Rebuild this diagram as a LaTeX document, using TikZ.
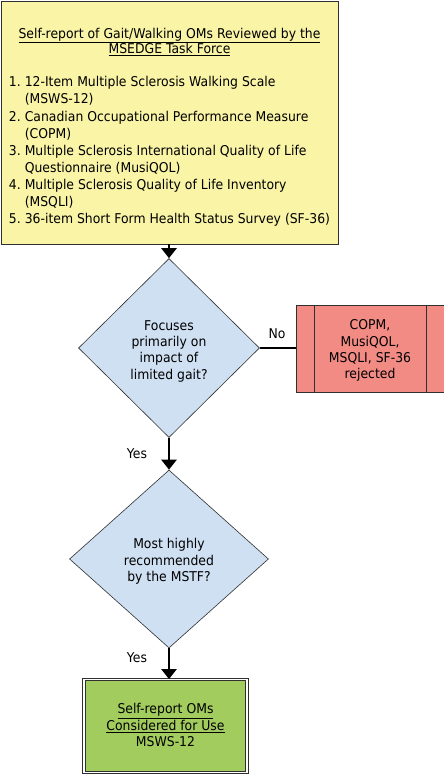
\documentclass[tikz,border=0pt]{standalone}
\usepackage{fontspec}
\setmainfont{DejaVu Sans}[FakeStretch=0.92]
\usetikzlibrary{shapes.geometric,arrows.meta}
\definecolor{ylw}{HTML}{FAF4A6}
\definecolor{blu}{HTML}{CFE0F2}
\definecolor{rd}{HTML}{F38B85}
\definecolor{grn}{HTML}{A3CC5E}
\definecolor{edge}{HTML}{303030}
\newcommand{\stk}[2][0pt]{\raisebox{#1}[\height][\depth]{\begin{tabular}{@{}c@{}}#2\end{tabular}}}
\tikzset{
  box/.style={draw=edge, line width=0.8pt, inner sep=0pt, font=\fontsize{13.5}{16.4}\selectfont},
  dia/.style={diamond, draw=edge, line width=0.6pt, fill=blu, inner sep=0pt, font=\fontsize{13.5}{16.4}\selectfont},
  flow/.style={line width=2.6pt, -{Triangle[width=15pt,length=10pt]}},
  lbl/.style={font=\fontsize{13.5}{15}\selectfont, inner sep=0pt}
}
\begin{document}
\begin{tikzpicture}[x=1pt,y=-1pt]
\useasboundingbox (0,0) rectangle (444,774);
\node[box, fill=ylw, minimum width=337pt, minimum height=243pt, font=\fontsize{13.5}{17.1}\selectfont] (yb) at (169.5,122.5) {\raisebox{-5pt}[\height][\depth]{%
\begin{tabular}{@{}l@{\ }l@{}}
\multicolumn{2}{c}{\underline{Self-report of Gait/Walking OMs Reviewed by the}}\\[-1.5pt]
\multicolumn{2}{c}{\underline{MSEDGE Task Force}}\\[15.9pt]
1. & 12-Item Multiple Sclerosis Walking Scale\\
   & (MSWS-12)\\
2. & Canadian Occupational Performance Measure\\
   & (COPM)\\
3. & Multiple Sclerosis International Quality of Life\\
   & Questionnaire (MusiQOL)\\
4. & Multiple Sclerosis Quality of Life Inventory\\
   & (MSQLI)\\
5. & 36-item Short Form Health Status Survey (SF-36)
\end{tabular}}\hspace{4pt}};
\node[dia, minimum width=181pt, minimum height=179pt] (d1) at (169,348) {\stk[-3.5pt]{Focuses\\primarily on\\impact of\\limited gait?}};
\node[box, fill=rd, minimum width=148pt, minimum height=87pt] (rb) at (370,348.5) {\stk[-2.5pt]{COPM,\\MusiQOL,\\MSQLI, SF-36\\rejected}};
\draw[edge, line width=0.6pt] (314,305) -- (314,392) (426,305) -- (426,392);
\node[dia, minimum width=199pt, minimum height=178pt] (d2) at (169,559) {\stk[-3pt]{Most highly\\recommended\\by the MSTF?}};
\node[box, fill=grn, double=white, double distance=1.6pt, line width=0.8pt, minimum width=163pt, minimum height=93pt] (gb) at (165.5,726) {\stk[-1pt]{\underline{Self-report OMs}\\\underline{Considered for Use}\\MSWS-12}};
\draw[flow] (yb.south -| d1.north) -- (d1.north);
\draw[line width=2.6pt] (d1.east) -- (d1.east -| rb.west);
\draw[flow] (d1.south) -- (d2.north);
\draw[flow] (d2.south) -- (d2.south |- gb.north);
\node[lbl] (no) at (277,334) {No};
\node[lbl] (y1) at (137,454) {Yes};
\node[lbl] (y2) at (137,658) {Yes};
\end{tikzpicture}
\end{document}
